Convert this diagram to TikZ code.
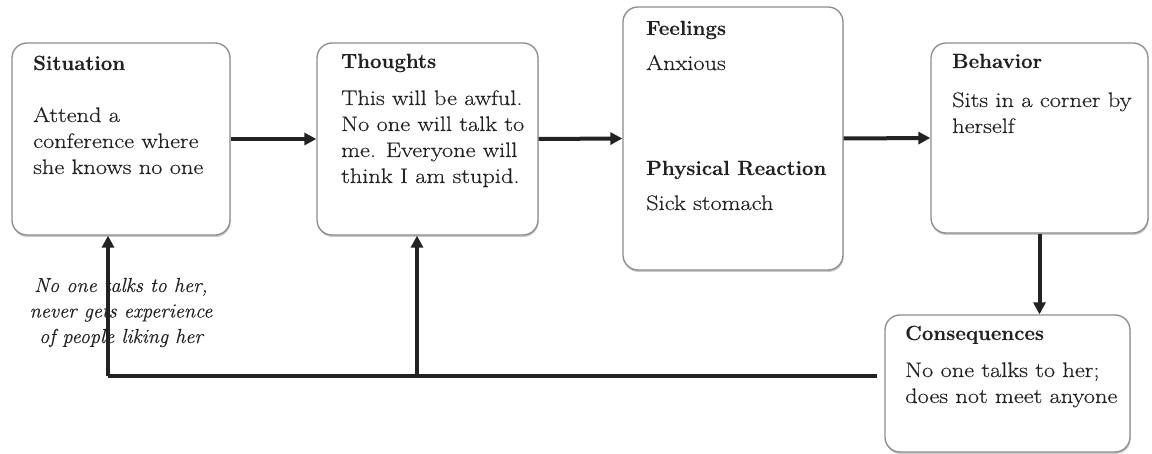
\documentclass[tikz,border=0pt]{standalone}
\usepackage{fontspec}
\usetikzlibrary{arrows.meta,shadows,calc}
\newfontfamily\bodyfont{Latin Modern Roman}[FakeStretch=1.16, FakeBold=0.35]
\newfontfamily\headfont{Latin Modern Roman}[BoldFeatures={FakeBold=0.2}]
\newfontfamily\notefont{Latin Modern Roman}[ItalicFeatures={FakeBold=0.35}]
\definecolor{ink}{HTML}{222222}
\definecolor{boxgray}{HTML}{8C8C8C}
\newcommand{\bodylines}[1]{\parbox[t]{240pt}{\bodyfont\fontsize{21}{26}\selectfont #1}}
\begin{document}
\begin{tikzpicture}[x=1pt,y=-1pt,
  card/.style={draw=boxgray, line width=1.3pt, rounded corners=15pt, fill=white,
    inner sep=0pt,
    drop shadow={shadow xshift=0.6pt, shadow yshift=-2pt, opacity=0.35, fill=black!60}},
  flow/.style={draw=ink, line width=4pt, -{Triangle[length=12pt,width=12pt]}},
  joint/.style={draw=ink, line width=4pt},
  head/.style={anchor=base west, inner sep=0pt, text=ink,
    font=\headfont\fontsize{20.5}{24}\selectfont\bfseries},
  body/.style={anchor=base west, inner sep=0pt, text=ink},
  note/.style={anchor=base, inner sep=0pt, text=ink}]
  \useasboundingbox (0,0) rectangle (1152,454);

  % boxes
  \node[card, minimum width=218pt, minimum height=192pt] (sit) at (121,139) {};
  \node[card, minimum width=221pt, minimum height=192pt] (tho) at (427.5,139) {};
  \node[card, minimum width=220pt, minimum height=263pt] (fee) at (733,138.5) {};
  \node[card, minimum width=217pt, minimum height=190pt] (beh) at (1039.5,138) {};
  \node[card, minimum width=245pt, minimum height=137pt] (con) at (1007.5,383.5) {};

  % box texts
  \node[head] (sitT) at (33,70) {Situation};
  \node[body] (sitB) at (33,122) {\bodylines{Attend a\\conference where\\she knows no one}};

  \node[head] (thoT) at (341,68) {Thoughts};
  \node[body] (thoB) at (341,105) {\bodylines{This will be awful.\\No one will talk to\\me. Everyone will\\think I am stupid.}};

  \node[head] (feeT) at (646,35) {Feelings};
  \node[body] (feeB) at (646,70) {\bodylines{Anxious}};
  \node[head] (phyT) at (646,175) {Physical Reaction};
  \node[body] (phyB) at (646,210) {\bodylines{Sick stomach}};

  \node[head] (behT) at (952,68) {Behavior};
  \node[body] (behB) at (952,107) {\bodylines{Sits in a corner by\\herself}};

  \node[head] (conT) at (905,340) {Consequences};
  \node[body] (conB) at (905,377) {\bodylines{No one talks to her;\\does not meet anyone}};

  % forward flow
  \draw[flow] (sit.east) -- (tho.west);
  \draw[flow] (tho.east) -- (fee.west);
  \draw[flow] (fee.east) -- (beh.west);
  \draw[flow] (beh.south) -- (beh.south |- con.north);

  % feedback loop
  \coordinate (fb) at (877,376);
  \coordinate (j1) at (108,376);
  \coordinate (j2) at (417,376);
  \draw[joint] (fb) -- (j1);
  \draw[flow] (j1) -- (j1 |- sit.south);
  \draw[flow] (j2) -- (j2 |- tho.south);

  \node[note] (loop) at (121,292) {\parbox[t]{220pt}{\centering\notefont\fontsize{20.3}{25.5}\selectfont\itshape
    No one talks to her,\\never gets experience\\of people liking her}};
\end{tikzpicture}
\end{document}
